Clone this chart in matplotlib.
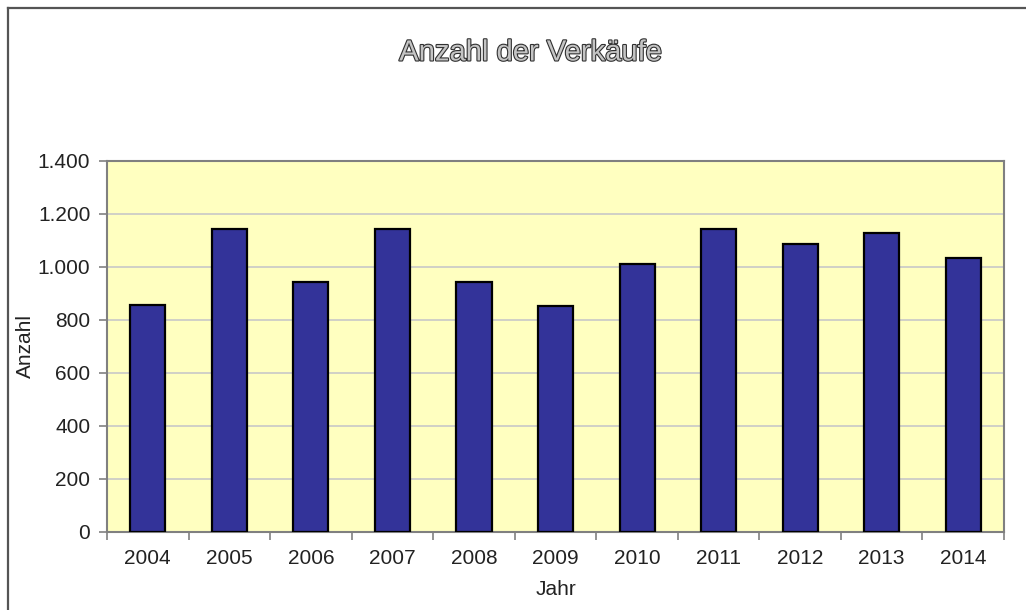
import matplotlib as mpl
import matplotlib.pyplot as plt
import matplotlib.patheffects as pe
from matplotlib.lines import Line2D
from matplotlib.ticker import FuncFormatter, MultipleLocator, FixedLocator

mpl.rcParams.update({
    'font.family': 'sans-serif',
    'font.sans-serif': ['Liberation Sans', 'DejaVu Sans'],
})

# Daten
jahre = ["2004", "2005", "2006", "2007", "2008", "2009",
         "2010", "2011", "2012", "2013", "2014"]
anzahl = [855, 1145, 945, 1145, 945, 853, 1010, 1145, 1088, 1130, 1033]

BAR_COLOR = "#333399"
BG_COLOR = "#FFFFC0"
GRID_COLOR = "#C8C8C8"
AXIS_COLOR = "#808080"


def tausender(x, pos):
    return f"{int(x):,}".replace(",", ".")


def plot_verkaeufe():
    fig = plt.figure(figsize=(10.26, 6.10), dpi=100)
    ax = fig.add_axes([0.1043, 0.1279, 0.8743, 0.6082])

    x = list(range(len(jahre)))
    ax.bar(x, anzahl, width=0.43, color=BAR_COLOR,
           edgecolor="black", linewidth=1.6, zorder=3)

    ax.set_facecolor(BG_COLOR)
    ax.set_xlim(-0.5, len(jahre) - 0.5)
    ax.set_ylim(0, 1400)

    ax.yaxis.set_major_locator(MultipleLocator(200))
    ax.yaxis.set_major_formatter(FuncFormatter(tausender))
    ax.grid(axis="y", color=GRID_COLOR, linewidth=1.2, zorder=0)

    ax.set_xticks(x)
    ax.set_xticklabels(jahre)
    ax.xaxis.set_minor_locator(FixedLocator([i - 0.5 for i in range(len(jahre) + 1)]))
    ax.tick_params(axis="x", which="major", length=0, pad=12, labelsize=15,
                   labelcolor="#222222")
    ax.tick_params(axis="x", which="minor", length=6, width=1.2,
                   color=AXIS_COLOR, direction="out")
    ax.tick_params(axis="y", length=6, width=1.2, color=AXIS_COLOR,
                   direction="out", labelsize=15, labelcolor="#222222", pad=6)

    for side in ax.spines.values():
        side.set_color(AXIS_COLOR)
        side.set_linewidth(1.5)

    ax.set_xlabel("Jahr", fontsize=15, color="#222222", labelpad=9)
    ax.set_ylabel("Anzahl", fontsize=15, color="#222222", labelpad=2)

    fig.text(0.517, 0.914, "Anzahl der Verkäufe", ha="center", va="center",
             fontsize=21, color="#C4C4C4",
             path_effects=[pe.withStroke(linewidth=1.6, foreground="#303030")])

    # Rahmen (links und oben)
    fig.add_artist(Line2D([8 / 1026, 8 / 1026], [0, 1 - 8 / 610],
                          transform=fig.transFigure, color="#555555", linewidth=1.6))
    fig.add_artist(Line2D([8 / 1026, 1.0], [1 - 8 / 610, 1 - 8 / 610],
                          transform=fig.transFigure, color="#555555", linewidth=1.6))

    fig.savefig("out.png", dpi=100)
    plt.close(fig)


if __name__ == "__main__":
    plot_verkaeufe()
